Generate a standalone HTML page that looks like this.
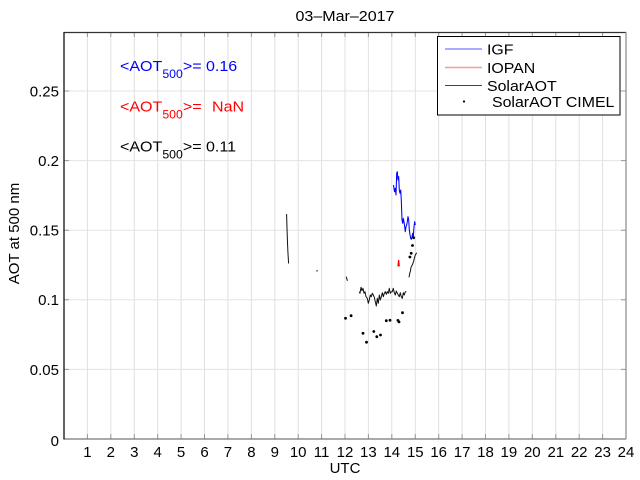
<!DOCTYPE html>
<html>
<head>
<meta charset="utf-8">
<style>
html,body{margin:0;padding:0;background:#fff;}
svg{display:block;}
text{font-family:"Liberation Sans",Arial,sans-serif;}
</style>
</head>
<body>
<svg width="640" height="480" viewBox="0 0 640 480" xmlns="http://www.w3.org/2000/svg">
<rect x="0" y="0" width="640" height="480" fill="#fff"/>
<rect x="64" y="32" width="562" height="407" fill="#fff"/>
<!-- vertical grid -->
<g stroke="#e0e0e0" stroke-width="1">
<line x1="87.4" y1="32" x2="87.4" y2="439"/>
<line x1="110.8" y1="32" x2="110.8" y2="439"/>
<line x1="134.3" y1="32" x2="134.3" y2="439"/>
<line x1="157.7" y1="32" x2="157.7" y2="439"/>
<line x1="181.1" y1="32" x2="181.1" y2="439"/>
<line x1="204.5" y1="32" x2="204.5" y2="439"/>
<line x1="227.9" y1="32" x2="227.9" y2="439"/>
<line x1="251.4" y1="32" x2="251.4" y2="439"/>
<line x1="274.8" y1="32" x2="274.8" y2="439"/>
<line x1="298.2" y1="32" x2="298.2" y2="439"/>
<line x1="321.6" y1="32" x2="321.6" y2="439"/>
<line x1="345" y1="32" x2="345" y2="439"/>
<line x1="368.4" y1="32" x2="368.4" y2="439"/>
<line x1="391.8" y1="32" x2="391.8" y2="439"/>
<line x1="415.3" y1="32" x2="415.3" y2="439"/>
<line x1="438.7" y1="32" x2="438.7" y2="439"/>
<line x1="462.1" y1="32" x2="462.1" y2="439"/>
<line x1="485.5" y1="32" x2="485.5" y2="439"/>
<line x1="508.9" y1="32" x2="508.9" y2="439"/>
<line x1="532.3" y1="32" x2="532.3" y2="439"/>
<line x1="555.8" y1="32" x2="555.8" y2="439"/>
<line x1="579.2" y1="32" x2="579.2" y2="439"/>
<line x1="602.6" y1="32" x2="602.6" y2="439"/>
</g>
<!-- horizontal grid -->
<g stroke="#e3e3e3" stroke-width="1">
<line x1="64" y1="369.4" x2="626" y2="369.4"/>
<line x1="64" y1="299.8" x2="626" y2="299.8"/>
<line x1="64" y1="230.2" x2="626" y2="230.2"/>
<line x1="64" y1="160.6" x2="626" y2="160.6"/>
<line x1="64" y1="91" x2="626" y2="91"/>
</g>
<!-- ticks -->
<g stroke="#999" stroke-width="1">
<path d="M87.4 439v-5M110.8 439v-5M134.3 439v-5M157.7 439v-5M181.1 439v-5M204.5 439v-5M227.9 439v-5M251.4 439v-5M274.8 439v-5M298.2 439v-5M321.6 439v-5M345 439v-5M368.4 439v-5M391.8 439v-5M415.3 439v-5M438.7 439v-5M462.1 439v-5M485.5 439v-5M508.9 439v-5M532.3 439v-5M555.8 439v-5M579.2 439v-5M602.6 439v-5"/>
<path d="M87.4 32v5M110.8 32v5M134.3 32v5M157.7 32v5M181.1 32v5M204.5 32v5M227.9 32v5M251.4 32v5M274.8 32v5M298.2 32v5M321.6 32v5M345 32v5M368.4 32v5M391.8 32v5M415.3 32v5M438.7 32v5M462.1 32v5M485.5 32v5M508.9 32v5M532.3 32v5M555.8 32v5M579.2 32v5M602.6 32v5"/>
<path d="M64 369.4h5M64 299.8h5M64 230.2h5M64 160.6h5M64 91h5M626 369.4h-5M626 299.8h-5M626 230.2h-5M626 160.6h-5M626 91h-5"/>
</g>
<!-- axes -->
<line x1="64" y1="32.5" x2="626" y2="32.5" stroke="#333" stroke-width="1.2"/>
<line x1="64" y1="439" x2="626" y2="439" stroke="#777" stroke-width="1.2"/>
<line x1="626" y1="32" x2="626" y2="439" stroke="#888" stroke-width="1.2"/>
<line x1="64" y1="32" x2="64" y2="439.5" stroke="#222" stroke-width="1.4"/>

<!-- y tick labels -->
<g font-size="15" fill="#000" text-anchor="end">
<text x="59" y="446">0</text>
<text x="59" y="375">0.05</text>
<text x="59" y="305">0.1</text>
<text x="59" y="235.5">0.15</text>
<text x="59" y="166">0.2</text>
<text x="59" y="96.5">0.25</text>
</g>
<!-- x tick labels -->
<g font-size="15" fill="#000" text-anchor="middle">
<text x="87.4" y="457">1</text>
<text x="110.8" y="457">2</text>
<text x="134.3" y="457">3</text>
<text x="157.7" y="457">4</text>
<text x="181.1" y="457">5</text>
<text x="204.5" y="457">6</text>
<text x="227.9" y="457">7</text>
<text x="251.4" y="457">8</text>
<text x="274.8" y="457">9</text>
<text x="298.2" y="457">10</text>
<text x="321.6" y="457">11</text>
<text x="345" y="457">12</text>
<text x="368.4" y="457">13</text>
<text x="391.8" y="457">14</text>
<text x="415.3" y="457">15</text>
<text x="438.7" y="457">16</text>
<text x="462.1" y="457">17</text>
<text x="485.5" y="457">18</text>
<text x="508.9" y="457">19</text>
<text x="532.3" y="457">20</text>
<text x="555.8" y="457">21</text>
<text x="579.2" y="457">22</text>
<text x="602.6" y="457">23</text>
<text x="626" y="457">24</text>
<text x="345" y="473">UTC</text>
<text x="345" y="21" transform="translate(345,0) scale(1.07,1) translate(-345,0)">03–Mar–2017</text>
</g>
<text x="0" y="0" font-size="15" fill="#000" text-anchor="middle" transform="translate(19,233.5) rotate(-90)">AOT at 500 nm</text>

<!-- annotations -->
<g transform="translate(120,0) scale(1.07,1) translate(-120,0)">
<text x="120" y="71" font-size="15" fill="#0000ff">&lt;AOT<tspan font-size="11.5" dy="7">500</tspan><tspan dy="-7">&gt;= 0.16</tspan></text>
<text x="120" y="111.5" font-size="15" fill="#ff0000">&lt;AOT<tspan font-size="11.5" dy="7">500</tspan><tspan dy="-7">&gt;=</tspan><tspan x="206">NaN</tspan></text>
<text x="120" y="151.5" font-size="15" fill="#000">&lt;AOT<tspan font-size="11.5" dy="7">500</tspan><tspan dy="-7">&gt;= 0.11</tspan></text>
</g>

<!-- SolarAOT black -->
<g fill="none" stroke="#111" stroke-width="1" stroke-linejoin="round">
<polyline points="286.6,214 286.9,225 287.4,240 287.9,252 288.6,263.5"/>
<polyline points="316.6,271.5 317.5,270.2"/>
<polyline points="346.2,276.7 347.4,280.8"/>
<polyline points="359.3,291.7 360,293.3 361,287.3 362,290.7 363,288.3 364,293.3 365,291.7 366,296.7 367.3,298.3 368.3,303.3 369.3,300 370.3,295 371.3,296.7 372.3,293.3 373.3,295 374.3,297.3 375.3,301.7 376.3,306 377.3,298.3 378.3,303.3 379.3,295 380.3,300 381.3,296.7 382.3,292.7 383.3,296.7 384.3,293.3 385.3,291.7 386.3,294.3 387.3,291.7 388.3,293.3 389.3,288.3 390.3,293.3 391.3,291.7 392.3,291.7 393.3,288.3 394.3,292.7 395.3,295 396.3,291 397.3,293.3 398.3,295 399.3,296.7 400.3,292.7 401.3,296.7 402.3,298.3 403.3,292.7 404.3,295 405.3,291.7 406.3,291.7"/>
<polyline points="409,277.3 409.7,273.3 410.3,271.7 411,267.3 411.7,266 412.7,264 413.7,261 414.3,258.3 415.3,255 416.7,252.7"/>
</g>
<!-- IGF blue -->
<polyline fill="none" stroke="#0000ff" stroke-width="1.05" stroke-linejoin="round" points="393.5,185 394.5,191.7 395.3,188.3 396,195 396.7,173.3 397.3,171.7 398,180 398.7,176.7 399.3,190 400,193.3 400.7,190 401.3,200 402,220 402.7,223.3 403.3,218.3 404,221.7 404.7,226.7 405.3,231.7 406,226.7 406.7,225 407.3,221.7 408,216.7 408.7,220 409.3,230 410,235 410.7,238.3 411.3,239.3 412,236.7 412.7,233.3 413.3,236.7 414,226.7 414.7,221.7 415.3,225"/>
<!-- IOPAN red -->
<polyline fill="none" stroke="#ff0000" stroke-width="1.2" points="398,266.5 398.6,260 399.3,266.3"/>
<!-- CIMEL dots -->
<g fill="#000">
<circle cx="345.5" cy="318.3" r="1.4"/>
<circle cx="351.1" cy="315.7" r="1.4"/>
<circle cx="363" cy="333.3" r="1.4"/>
<circle cx="366.5" cy="342.2" r="1.4"/>
<circle cx="373.8" cy="331.5" r="1.4"/>
<circle cx="376.8" cy="336.7" r="1.4"/>
<circle cx="380.5" cy="335" r="1.4"/>
<circle cx="386.3" cy="320.7" r="1.4"/>
<circle cx="390" cy="320.3" r="1.4"/>
<circle cx="397.9" cy="320.4" r="1.4"/>
<circle cx="399" cy="321.9" r="1.4"/>
<circle cx="402.5" cy="312.7" r="1.4"/>
<circle cx="409.9" cy="257" r="1.4"/>
<circle cx="411.2" cy="253.3" r="1.4"/>
<circle cx="412.5" cy="245.5" r="1.4"/>
<circle cx="413.6" cy="237.7" r="1.4"/>
</g>

<!-- legend -->
<rect x="437.5" y="36.5" width="182.5" height="78.5" fill="#fff" stroke="#000" stroke-width="1"/>
<line x1="445" y1="49" x2="482" y2="49" stroke="#5555ff" stroke-width="1"/>
<line x1="445" y1="67.5" x2="482" y2="67.5" stroke="#ff9999" stroke-width="1.6"/>
<line x1="445" y1="85.5" x2="482" y2="85.5" stroke="#444" stroke-width="1"/>
<circle cx="464" cy="101.5" r="1.1" fill="#000"/>
<g font-size="15" fill="#000">
<text x="487" y="54.5" transform="translate(487,0) scale(1.06,1) translate(-487,0)">IGF</text>
<text x="487" y="73" transform="translate(487,0) scale(1.06,1) translate(-487,0)">IOPAN</text>
<text x="487" y="91" transform="translate(487,0) scale(1.06,1) translate(-487,0)">SolarAOT</text>
<text x="492" y="107" transform="translate(492,0) scale(1.06,1) translate(-492,0)">SolarAOT CIMEL</text>
</g>
</svg>
</body>
</html>
